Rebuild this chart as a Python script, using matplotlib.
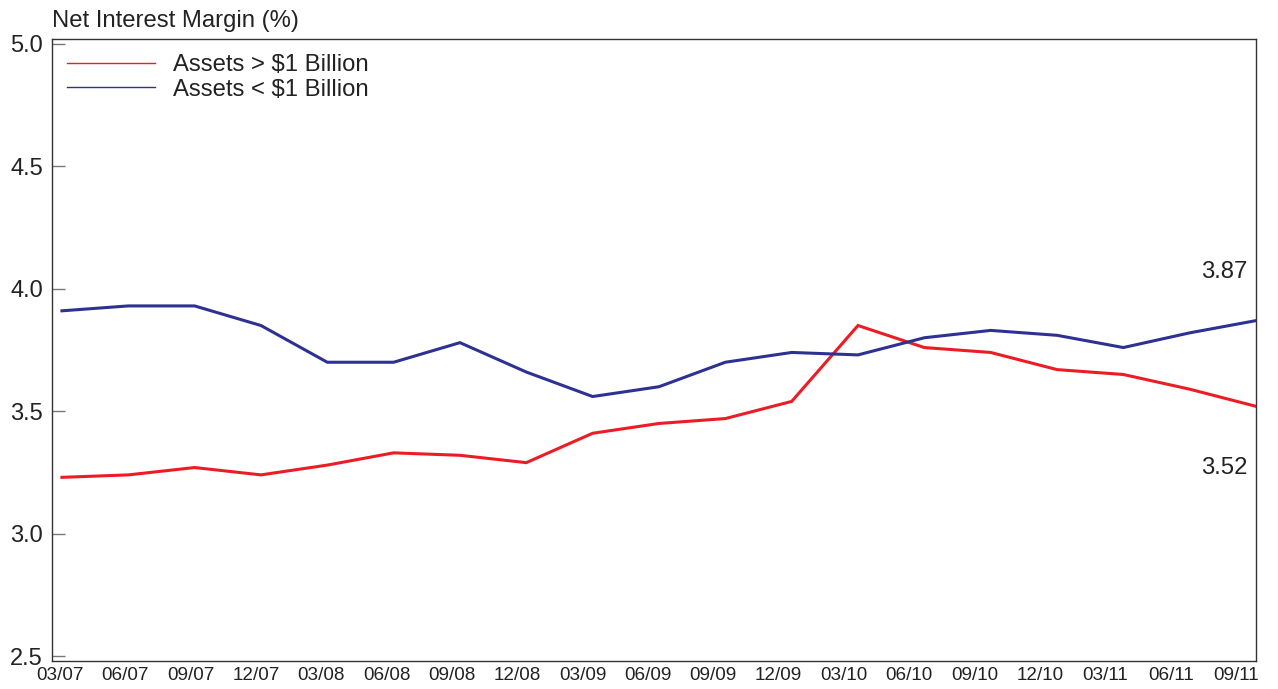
import matplotlib.pyplot as plt
import matplotlib.transforms as mtransforms
import numpy as np

plt.rcParams['font.family'] = ['Liberation Sans', 'DejaVu Sans']

quarters = ["03/07", "06/07", "09/07", "12/07", "03/08", "06/08", "09/08", "12/08",
            "03/09", "06/09", "09/09", "12/09", "03/10", "06/10", "09/10", "12/10",
            "03/11", "06/11", "09/11"]
big_banks = [3.23, 3.24, 3.27, 3.24, 3.28, 3.33, 3.32, 3.29, 3.41, 3.45, 3.47, 3.54,
             3.85, 3.76, 3.74, 3.67, 3.65, 3.59, 3.52]
small_banks = [3.91, 3.93, 3.93, 3.85, 3.70, 3.70, 3.78, 3.66, 3.56, 3.60, 3.70, 3.74,
               3.73, 3.80, 3.83, 3.81, 3.76, 3.82, 3.87]

red = "#ed1c24"
blue = "#2e3192"

fig = plt.figure(figsize=(12.78, 6.89), dpi=100)
ax = fig.add_axes([52 / 1278, 28 / 689, 1204 / 1278, 622 / 689])

x = np.arange(len(quarters))
ax.plot(x, big_banks, color=red, lw=2.2, solid_joinstyle='miter')
ax.plot(x, small_banks, color=blue, lw=2.2, solid_joinstyle='miter')

ax.set_xlim(-0.15, len(quarters) - 1)
ax.set_ylim(2.48, 5.02)
ax.set_yticks([2.5, 3.0, 3.5, 4.0, 4.5, 5.0])
ax.set_yticklabels(["2.5", "3.0", "3.5", "4.0", "4.5", "5.0"])
ax.set_xticks([])

# date labels are spaced a bit tighter than the data points, so the last one fits
for i, q in enumerate(quarters):
    tr = mtransforms.offset_copy(ax.get_xaxis_transform(), fig=fig,
                                 x=-(2 + 1.0 * i), y=-6, units='dots')
    ax.text(x[i], 0, q, transform=tr, ha='center', va='top',
            fontsize=13.6, color='#222222')

ax.tick_params(axis='y', direction='in', length=9, width=1, color='#777777',
               labelsize=17, pad=6.5, labelcolor='#222222')

for s in ax.spines.values():
    s.set_color('#333333')
    s.set_linewidth(1.0)

# legend with thin handle lines
h1, = ax.plot([], [], color=red, lw=1.0)
h2, = ax.plot([], [], color=blue, lw=1.0)
ax.legend([h1, h2], ["Assets > $1 Billion", "Assets < $1 Billion"],
          loc='upper left', bbox_to_anchor=(0.0125, 0.976), frameon=False,
          fontsize=17.2, handlelength=3.7, handletextpad=0.75, labelspacing=0.12,
          borderaxespad=0, borderpad=0, labelcolor='#222222')

# end labels
ax.text(len(quarters) - 1.13, 4.07, "3.87", ha='right', va='center', fontsize=17.2, color='#222222')
ax.text(len(quarters) - 1.13, 3.27, "3.52", ha='right', va='center', fontsize=17.2, color='#222222')

fig.text(52 / 1278, 1 - 21 / 689, "Net Interest Margin (%)", ha='left', va='center',
         fontsize=17.2, color='#222222')

fig.savefig("out.png", dpi=100)
